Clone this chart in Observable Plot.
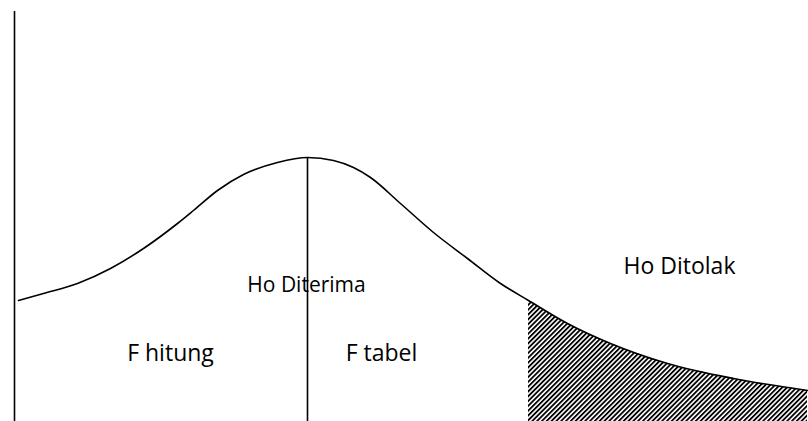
<!DOCTYPE html>
<html>
<head>
<meta charset="utf-8">
<script src="https://cdn.jsdelivr.net/npm/d3@7"></script>
<script src="https://cdn.jsdelivr.net/npm/@observablehq/plot@0.6"></script>
<style>
  html, body { margin: 0; padding: 0; background: #fff; }
  #chart svg { display: block; }
</style>
</head>
<body>
<div id="chart"></div>
<script>
// Curve (F distribution sketch): x position and height above baseline
const curveX = [18, 43, 77, 110, 143, 177, 193, 217, 243, 277, 307, 333, 353, 370, 400, 433, 467, 500, 528, 567, 610, 667, 733, 807];
const curveY = [121, 128, 138, 153, 173, 198, 211, 231, 247, 259, 264, 261, 254, 244, 218, 189, 163, 138, 121, 98, 78, 58, 43, 31];

// Critical value where rejection region starts
const criticalX = 528;
// Peak / F line
const peakX = 307;
const peakY = 264;
// Left axis
const axisX = 14;
const axisTop = 410;

// Labels
const labelText = ["Ho Diterima", "Ho Ditolak", "F hitung", "F tabel"];
const labelX = [306, 679, 170, 381];
const labelY = [136, 155, 68, 68];

const curve = curveX.map((x, i) => ({x, y: curveY[i]}));
const tail = curve.filter(d => d.x >= criticalX);
const labels = labelText.map((t, i) => ({t, x: labelX[i], y: labelY[i]}));

const plot = Plot.plot({
  width: 808,
  height: 421,
  margin: 0,
  x: {domain: [0, 808], axis: null},
  y: {domain: [0, 421], axis: null},
  style: {background: "#fff", fontFamily: "'Open Sans', sans-serif"},
  marks: [
    Plot.areaY(tail, {x: "x", y1: 0, y2: "y", fill: "url(#hatch)", curve: "monotone-x"}),
    Plot.line(curve, {x: "x", y: "y", stroke: "#000", strokeWidth: 1.6, curve: "monotone-x"}),
    Plot.ruleX([axisX], {y1: 0, y2: axisTop, stroke: "#000", strokeWidth: 1.6}),
    Plot.ruleX([peakX], {y1: 0, y2: peakY, stroke: "#000", strokeWidth: 1.6}),
    Plot.text(labels, {x: "x", y: "y", text: "t", fontSize: d => d.t === "Ho Diterima" ? 21 : 23, fill: "#000", textAnchor: "middle", lineAnchor: "middle"})
  ]
});

const ns = "http://www.w3.org/2000/svg";
const defs = document.createElementNS(ns, "defs");
const pat = document.createElementNS(ns, "pattern");
pat.setAttribute("id", "hatch");
pat.setAttribute("patternUnits", "userSpaceOnUse");
pat.setAttribute("width", "3.4");
pat.setAttribute("height", "3.4");
pat.setAttribute("patternTransform", "rotate(45)");
const bg = document.createElementNS(ns, "rect");
bg.setAttribute("width", "3.4"); bg.setAttribute("height", "3.4"); bg.setAttribute("fill", "#fff");
const r = document.createElementNS(ns, "rect");
r.setAttribute("width", "1.8"); r.setAttribute("height", "3.4"); r.setAttribute("fill", "#000");
pat.appendChild(bg); pat.appendChild(r);
defs.appendChild(pat);
plot.insertBefore(defs, plot.firstChild);

document.getElementById("chart").appendChild(plot);
</script>
</body>
</html>
